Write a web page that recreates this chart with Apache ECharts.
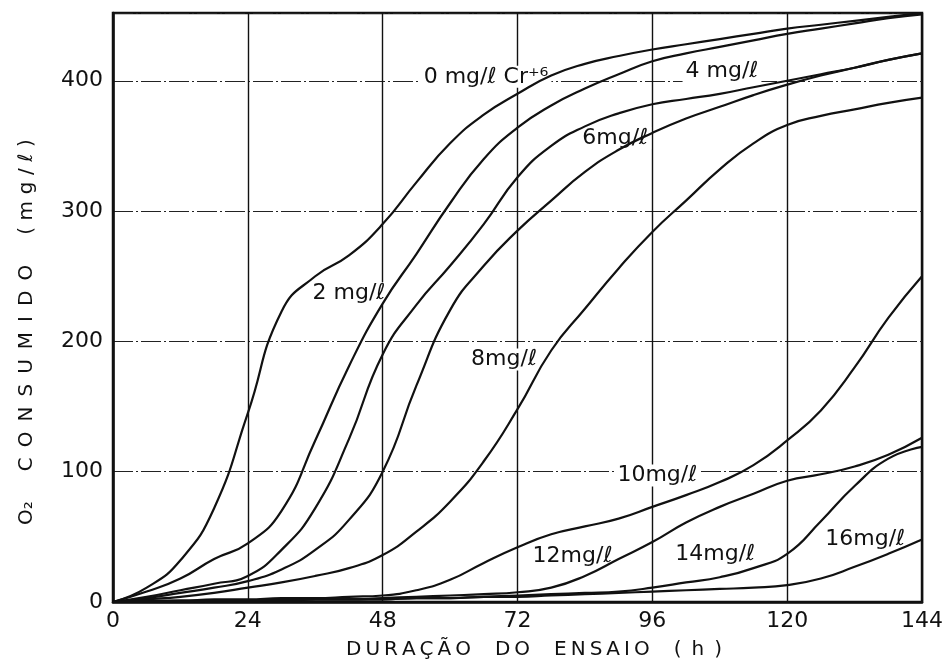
<!DOCTYPE html>
<html>
<head>
<meta charset="utf-8">
<title>O2 consumido</title>
<script src="https://cdn.jsdelivr.net/npm/echarts/dist/echarts.min.js"></script>
<style>
  html, body { margin: 0; padding: 0; background: #fff; }
  #chart { width: 946px; height: 661px; }
</style>
</head>
<body>
<div id="chart"></div>
<script>
// hours of test (h)
var hours = [0, 6, 12, 18, 24, 30, 36, 42, 48, 54, 60, 66, 72, 78, 84, 90, 96, 102, 108, 114, 120, 126, 132, 138, 144]

// O2 consumed (mg/l) for each Cr+6 concentration
var o2_0mg  = [0, 11, 32, 72, 145, 223, 250, 266, 290, 322, 352, 374, 390, 404, 413, 419, 424, 428, 432, 436, 440, 443, 446, 449, 452]
var o2_2mg  = [0, 8, 18, 33, 45, 70, 124, 181, 229, 267, 306, 340, 364, 381, 394, 405, 415, 421, 426, 431, 436, 440, 444, 448, 451]
var o2_4mg  = [0, 4, 9, 14, 20, 40, 72, 125, 190, 228, 258, 290, 326, 350, 365, 375, 382, 386, 390, 395, 400, 405, 410, 416, 421]
var o2_6mg  = [0, 3, 7, 11, 16, 25, 40, 63, 100, 166, 224, 258, 285, 308, 330, 347, 360, 371, 380, 389, 397, 404, 410, 416, 421]
var o2_8mg  = [0, 2, 4, 7, 11, 15, 20, 26, 36, 54, 77, 108, 148, 193, 225, 256, 284, 308, 332, 352, 366, 373, 378, 383, 387]
var o2_10mg = [0, 1, 1, 2, 2, 3, 3, 4, 5, 9, 17, 30, 42, 52, 58, 64, 73, 82, 92, 105, 124, 147, 180, 218, 250]
var o2_12mg = [0, 0, 1, 1, 1, 2, 2, 2, 3, 4, 5, 6, 7.5, 11, 20, 33, 46, 61, 73, 83, 93, 98, 104, 113, 126]
var o2_14mg = [0, 0, 0, 1, 1, 1, 2, 2, 2, 3, 3, 4, 5, 6, 7, 8, 11, 15, 19, 26, 37, 62, 89, 110, 119]
var o2_16mg = [0, 0, 0, 1, 1, 1, 2, 2, 2, 3, 3, 4, 4, 5, 6, 7, 8, 9, 10, 11, 13, 18, 27, 37, 48]

var curves = [o2_0mg, o2_2mg, o2_4mg, o2_6mg, o2_8mg, o2_10mg, o2_12mg, o2_14mg, o2_16mg]
var curveNames = ['0 mg/l', '2 mg/l', '4 mg/l', '6 mg/l', '8 mg/l', '10 mg/l', '12 mg/l', '14 mg/l', '16 mg/l']

// curve labels written on the plot, placed in data units
var labelText = ['0 mg/\u2113 Cr\u207A\u2076', '2 mg/\u2113', '4 mg/\u2113', '6mg/\u2113', '8mg/\u2113',
  '10mg/\u2113', '12mg/\u2113', '14mg/\u2113', '16mg/\u2113']
var labelHour = [66.4, 42, 108.4, 89.4, 69.6, 96.9, 81.8, 107.2, 133.9]
var labelO2 = [403, 237, 407, 356, 186, 97, 35, 37, 48]

function spaced(s, sep) {
  return s.split('').join(sep)
}

var font = 'DejaVu Sans'
var ink = '#111'

var chart = echarts.init(document.getElementById('chart'))

var series = curves.map(function (vals, i) {
  return {
    name: curveNames[i],
    type: 'line',
    z: 3,
    smooth: 0.5,
    symbol: 'none',
    silent: true,
    lineStyle: { color: ink, width: 2.2 },
    data: hours.map(function (h, k) { return [h, vals[k]] })
  }
})

var xTitle = spaced('DURA\u00C7\u00C3O', '\u2009') + '\u2003\u2009' + spaced('DO', '\u2009') +
  '\u2003\u2009' + spaced('ENSAIO', '\u2009') + '\u2003\u2009' + spaced('(h)', '\u2002')
var yTitle = 'O\u2082' + '\u2003\u2002' + spaced('CONSUMIDO', '\u2002') + '\u2003\u2002' +
  spaced('(mg/\u2113)', '\u2004')

var option = {
  animation: false,
  backgroundColor: '#fff',
  grid: {
    left: 113,
    right: 20,
    top: 13,
    bottom: 59,
    show: true,
    borderColor: ink,
    borderWidth: 2.5
  },
  xAxis: {
    type: 'value',
    min: 0,
    max: 144,
    interval: 24,
    axisLine: { show: true, lineStyle: { color: ink, width: 2.5 } },
    axisTick: { show: false },
    axisLabel: { color: ink, fontFamily: font, fontSize: 22, margin: 8 },
    splitLine: { show: true, lineStyle: { color: ink, width: 1.4, type: 'solid' } }
  },
  yAxis: {
    type: 'value',
    min: 0,
    max: 452,
    interval: 100,
    axisLine: { show: true, lineStyle: { color: ink, width: 2.5 } },
    axisTick: { show: false },
    axisLabel: { color: ink, fontFamily: font, fontSize: 22, margin: 10, showMaxLabel: false },
    splitLine: { show: true, lineStyle: { color: '#222', width: 1.2, type: [20, 3, 2, 3] } }
  },
  series: series
}

chart.setOption(option)

// axis titles and curve labels (labels mapped from data units to pixels)
var graphics = [
  {
    type: 'text',
    left: 346,
    top: 640,
    style: { text: xTitle, fill: ink, font: '20px "DejaVu Sans"' }
  },
  {
    type: 'text',
    x: 27,
    y: 332,
    rotation: Math.PI / 2,
    style: { text: yTitle, fill: ink, font: '20px "DejaVu Sans"', align: 'center', verticalAlign: 'middle' }
  }
]
labelText.forEach(function (t, i) {
  var p = chart.convertToPixel({ gridIndex: 0 }, [labelHour[i], labelO2[i]])
  graphics.push({
    type: 'text',
    x: p[0],
    y: p[1],
    z: 1,
    style: {
      text: t,
      fill: ink,
      font: '22px "DejaVu Sans"',
      align: 'center',
      verticalAlign: 'middle',
      backgroundColor: '#fff',
      padding: [0, 3]
    }
  })
})
chart.setOption({ graphic: graphics })
</script>
</body>
</html>
